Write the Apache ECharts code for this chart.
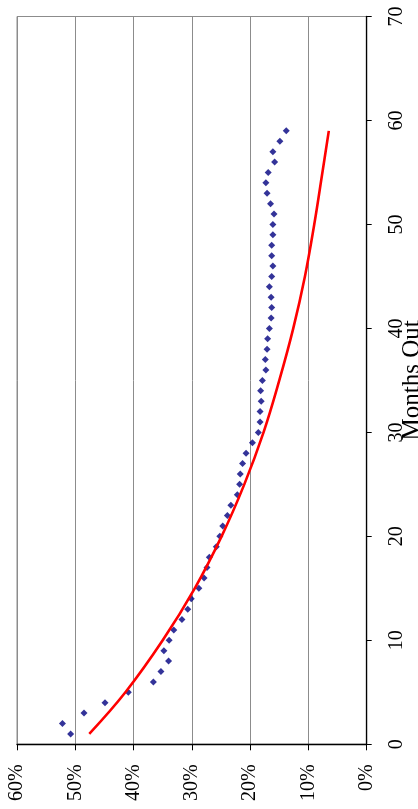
<!DOCTYPE html>
<html>
<head>
<meta charset="utf-8">
<script src="https://cdn.jsdelivr.net/npm/echarts@6/dist/echarts.min.js"></script>
<style>
html,body{margin:0;padding:0;background:#fff;}
#chart{width:418px;height:809px;}
</style>
</head>
<body>
<div id="chart"></div>
<script>
// Months out (observed points)
var months = [1,2,3,4,5,6,7,8,9,10,11,12,13,14,15,16,17,18,19,20,
  21,22,23,24,25,26,27,28,29,30,31,32,33,34,35,36,37,38,39,40,
  41,42,43,44,45,46,47,48,49,50,51,52,53,54,55,56,57,58,59];
// Observed rate (%) per month
var observed = [50.8,52.2,48.5,44.9,40.9,36.6,35.3,34.0,34.8,33.9,
  33.1,31.7,30.7,30.1,28.8,27.9,27.4,27.0,25.8,25.2,
  24.7,23.9,23.3,22.2,21.8,21.7,21.3,20.7,19.6,18.6,
  18.3,18.3,18.1,18.2,17.9,17.3,17.4,17.1,17.0,16.7,
  16.4,16.3,16.4,16.7,16.3,16.1,16.3,16.3,16.1,16.1,
  15.9,16.5,17.1,17.3,16.9,15.8,16.1,14.9,13.8];
// Trend curve
var trendMonths = [1,5,10,15,20,25,30,35,40,45,50,55,59];
var trendValues = [47.6,41.4,35.0,29.5,24.9,21.0,17.7,15.0,12.6,10.6,9.0,7.6,6.5];
// Tick settings
var pctTicks = {min:0, max:60, interval:10};
var monthTicks = {min:0, max:70, interval:10};
var axisTitle = 'Months Out';

var scatterData = months.map(function(m,i){ return [observed[i], m]; });
var trendData = trendMonths.map(function(m,i){ return [trendValues[i], m]; });

var font = '"Liberation Serif","Times New Roman",serif';
var chart = echarts.init(document.getElementById('chart'));
chart.setOption({
  animation:false,
  backgroundColor:'#fff',
  grid:{left:17, right:51.3, top:16.5, bottom:64.7, containLabel:false, outerBoundsMode:'none',
        show:true, borderColor:'#8c8c8c', borderWidth:1, backgroundColor:'transparent'},
  xAxis:{
    type:'value', position:'bottom', inverse:true,
    min:pctTicks.min, max:pctTicks.max, interval:pctTicks.interval,
    axisLine:{show:true, onZero:false, lineStyle:{color:'#000', width:1.3}},
    axisTick:{show:true, inside:false, length:6, lineStyle:{color:'#000'}},
    axisLabel:{rotate:90, margin:20, fontFamily:font, fontSize:20, color:'#000', formatter:'{value}%'},
    splitLine:{show:true, lineStyle:{color:'#8c8c8c', width:1}}
  },
  yAxis:{
    type:'value', position:'right',
    min:monthTicks.min, max:monthTicks.max, interval:monthTicks.interval,
    name:axisTitle, nameLocation:'middle', nameRotate:90, nameGap:33, nameMoveOverlap:false,
    nameTextStyle:{fontFamily:font, fontSize:25, color:'#000'},
    axisLine:{show:true, onZero:false, lineStyle:{color:'#000', width:1.3}},
    axisTick:{show:true, inside:false, length:5, lineStyle:{color:'#000'}},
    axisLabel:{rotate:90, margin:20, fontFamily:font, fontSize:20, color:'#000'},
    splitLine:{show:false}
  },
  series:[
    {type:'scatter', data:scatterData, symbol:'diamond', symbolSize:7,
     itemStyle:{color:'#000080'}, z:3},
    {type:'line', data:trendData, smooth:0.4, showSymbol:false, symbol:'none',
     lineStyle:{color:'#ff0000', width:2.6}, z:4}
  ]
});
</script>
</body>
</html>
